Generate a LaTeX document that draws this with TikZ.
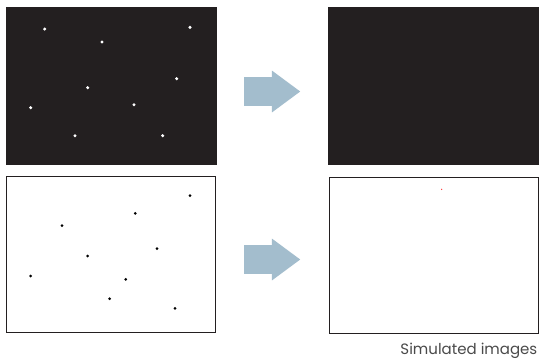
\documentclass[tikz,border=0pt]{standalone}
\usepackage{fontspec}
\setmainfont{Poppins}
\usepackage{tikz}
\usetikzlibrary{positioning,shapes.arrows}

\definecolor{imgdark}{HTML}{231F20}
\definecolor{arrowblue}{HTML}{A3BDCD}
\definecolor{capgray}{HTML}{4A4A4A}

\begin{document}
\begin{tikzpicture}[
  x=1pt, y=-1pt,
  darkimg/.style={fill=imgdark, minimum width=211pt, minimum height=158pt, inner sep=0pt, outer sep=0pt, anchor=north west},
  lightimg/.style={draw=imgdark, line width=1.4pt, fill=white, minimum width=209pt, minimum height=156pt, inner sep=0pt, outer sep=0pt, anchor=north west},
  wdot/.style={circle, fill=white, inner sep=0pt, minimum size=3.4pt},
  bdot/.style={circle, fill=black, inner sep=0pt, minimum size=3pt},
  fatarrow/.style={single arrow, fill=arrowblue, inner xsep=0pt, inner ysep=14.2pt, minimum height=56pt, single arrow head extend=6.5pt, single arrow tip angle=73, anchor=tail}
  ]
  \useasboundingbox[fill=white] (0,0) rectangle (548,360);

  % Images before
  \node[darkimg] (topin) at (6,7) {};
  \node[lightimg] (botin) at (6.7,176.2) {};

  % Images after
  \node[darkimg] (topout) at (328,7) {};
  \node[lightimg] (botout) at (329.7,177.2) {};

  % Arrows
  \node[fatarrow] (arrtop) at (244,91.5) {};
  \node[fatarrow] (arrbot) at (244,259.5) {};

  % Bright spots
  \node[wdot] (w1) at (44.7,29) {};
  \node[wdot] (w2) at (102,42) {};
  \node[wdot] (w3) at (190,27.3) {};
  \node[wdot] (w4) at (176.7,78.7) {};
  \node[wdot] (w5) at (87.7,87.7) {};
  \node[wdot] (w6) at (30.7,107.7) {};
  \node[wdot] (w7) at (134,104.7) {};
  \node[wdot] (w8) at (75,135.7) {};
  \node[wdot] (w9) at (162.7,135.7) {};

  % Dark spots
  \node[bdot] (b1) at (190,195.7) {};
  \node[bdot] (b2) at (135.3,213.3) {};
  \node[bdot] (b3) at (62,225.7) {};
  \node[bdot] (b4) at (157,248.7) {};
  \node[bdot] (b5) at (87.7,256) {};
  \node[bdot] (b6) at (30.7,276) {};
  \node[bdot] (b7) at (125.7,279.3) {};
  \node[bdot] (b8) at (109.7,298.7) {};
  \node[bdot] (b9) at (175,308.3) {};

  % Remaining spot
  \node[circle, fill=red!80, inner sep=0pt, minimum size=1.4pt] (r1) at (441.7,189.3) {};

  % Caption
  \node[anchor=base east, inner sep=0pt, text=capgray, font=\fontsize{15}{17}\selectfont] (cap) at (537.5,354) {Simulated images};
\end{tikzpicture}
\end{document}
